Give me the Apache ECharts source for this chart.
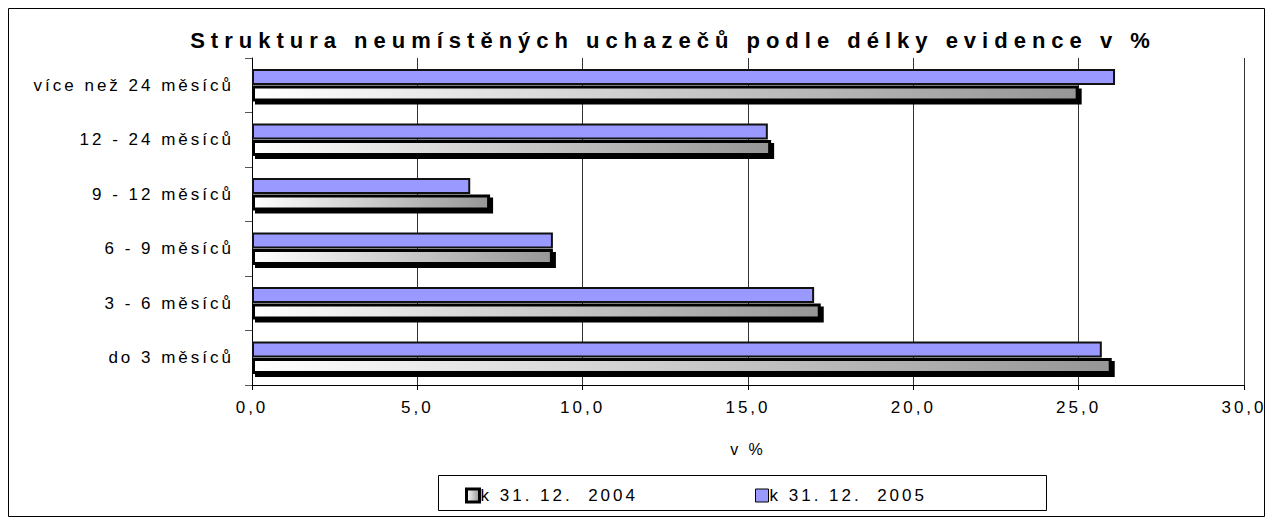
<!DOCTYPE html>
<html>
<head>
<meta charset="utf-8">
<script src="https://cdn.jsdelivr.net/npm/echarts@6/dist/echarts.min.js"></script>
<style>
  html, body { margin: 0; padding: 0; background: #fff; }
  #chart { width: 1273px; height: 521px; }
  /* the original text is drawn spaced out */
  #chart text { letter-spacing: 3px; }
  #chart text[style*="bold"] { letter-spacing: 6px; }
</style>
</head>
<body>
<div id="chart"></div>
<script>
const categories = ['do 3 měsíců', '3 - 6 měsíců', '6 - 9 měsíců', '9 - 12 měsíců', '12 - 24 měsíců', 'více než 24 měsíců'];
const values2004 = [26.0, 17.2, 9.1, 7.2, 15.7, 25.0];
const values2005 = [25.7, 17.0, 9.1, 6.6, 15.6, 26.1];
const seriesNames = ['k 31. 12.  2004', 'k 31. 12.  2005'];
const titleText = 'Struktura neumístěných uchazečů podle délky evidence v %';
const axisName = 'v %';

const font = "'Liberation Sans', Arial, sans-serif";

const chart = echarts.init(document.getElementById('chart'), null, { renderer: 'svg' });

const grad2004 = new echarts.graphic.LinearGradient(0, 0, 1, 0, [
  { offset: 0, color: '#ffffff' },
  { offset: 1, color: '#969696' }
]);

const legendText = { fontFamily: font, fontSize: 17, color: '#000', padding: [0, 0, 0, -4] };

chart.setOption({
  animation: false,
  backgroundColor: '#fff',
  graphic: [
    {
      type: 'rect',
      shape: { x: 8.5, y: 8.5, width: 1256, height: 508 },
      style: { fill: 'none', stroke: '#000', lineWidth: 1 }
    },
    {
      type: 'rect',
      shape: { x: 438.5, y: 475.5, width: 608, height: 35 },
      style: { fill: 'none', stroke: '#000', lineWidth: 1 }
    },
    {
      type: 'text',
      x: 673,
      y: 40,
      style: {
        text: titleText,
        fontFamily: font,
        fontWeight: 'bold',
        fontSize: 22,
        fill: '#000',
        textAlign: 'center',
        textVerticalAlign: 'middle'
      }
    }
  ],
  legend: [
    {
      data: [seriesNames[0]],
      icon: 'rect',
      left: 460,
      top: 482,
      itemWidth: 13,
      itemHeight: 13,
      itemGap: 0,
      itemStyle: { borderColor: '#000', borderWidth: 3 },
      textStyle: legendText
    },
    {
      data: [seriesNames[1]],
      icon: 'rect',
      left: 750,
      top: 482,
      itemWidth: 13,
      itemHeight: 13,
      itemGap: 0,
      itemStyle: { borderColor: '#000', borderWidth: 1 },
      textStyle: legendText
    }
  ],
  grid: {
    left: 252,
    right: 29,
    top: 58,
    bottom: 136
  },
  xAxis: {
    type: 'value',
    min: 0,
    max: 30,
    interval: 5,
    name: axisName,
    nameLocation: 'middle',
    nameGap: 56,
    nameTextStyle: { fontFamily: font, fontSize: 16, color: '#000' },
    axisLine: { show: true, lineStyle: { color: '#000', width: 1 } },
    axisTick: { show: true, length: 5, lineStyle: { color: '#000' } },
    axisLabel: {
      fontFamily: font,
      fontSize: 17,
      color: '#000',
      margin: 14,
      formatter: v => v.toFixed(1).replace('.', ',')
    },
    splitLine: { show: true, lineStyle: { color: '#333', width: 1 } }
  },
  yAxis: {
    type: 'category',
    data: categories,
    axisLine: { show: true, lineStyle: { color: '#000', width: 1 } },
    axisTick: { show: true, length: 7, lineStyle: { color: '#555' } },
    axisLabel: {
      fontFamily: font,
      fontSize: 17,
      color: '#000',
      margin: 18
    },
    splitLine: { show: false }
  },
  // 2005 listed first so it sits above 2004 within each category
  series: [
    {
      name: seriesNames[1],
      type: 'bar',
      data: values2005,
      barWidth: 16,
      barGap: '4%',
      itemStyle: {
        color: '#9999ff',
        borderColor: '#111',
        borderWidth: 2
      }
    },
    {
      name: seriesNames[0],
      type: 'bar',
      data: values2004,
      barWidth: 16,
      barGap: '4%',
      itemStyle: {
        color: grad2004,
        borderColor: '#000',
        borderWidth: 3,
        shadowColor: '#000',
        shadowOffsetX: 3,
        shadowOffsetY: 3,
        shadowBlur: 0
      }
    }
  ]
});
</script>
</body>
</html>
